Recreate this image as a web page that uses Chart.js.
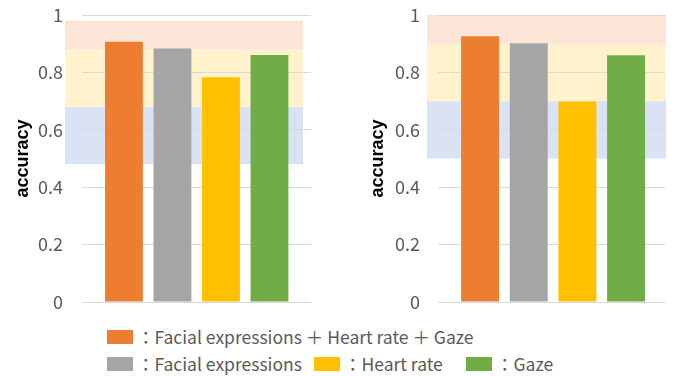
<!DOCTYPE html>
<html lang="en">
  <head>
    <meta charset="UTF-8" />
    <title>Accuracy</title>
    <script src="https://cdn.jsdelivr.net/npm/chart.js"></script>
    <style>
      body {
        margin: 0;
        background: #fff;
        width: 673px;
        height: 376px;
        position: relative;
        overflow: hidden;
        font-family: "Noto Sans CJK JP", "Noto Sans", sans-serif;
      }
      .box {
        position: absolute;
        top: 0;
        height: 320px;
      }
      #leftBox {
        left: 0;
        width: 340px;
      }
      #rightBox {
        left: 340px;
        width: 333px;
      }
      .legend-item {
        position: absolute;
        display: flex;
        align-items: center;
        color: #595959;
        font-size: 17.5px;
        white-space: nowrap;
      }
      .swatch {
        width: 26px;
        height: 14px;
        margin-right: 4px;
      }
    </style>
  </head>
  <body>
    <div class="box" id="leftBox"><canvas id="leftChart"></canvas></div>
    <div class="box" id="rightBox"><canvas id="rightChart"></canvas></div>

    <div class="legend-item" style="left: 107px; top: 324px">
      <span class="swatch" style="background: #ed7d31"></span>
      <span>：Facial expressions ＋ Heart rate ＋ Gaze</span>
    </div>
    <div class="legend-item" style="left: 107px; top: 351px">
      <span class="swatch" style="background: #a5a5a5"></span>
      <span>：Facial expressions</span>
    </div>
    <div class="legend-item" style="left: 314px; top: 351px">
      <span class="swatch" style="background: #ffc000"></span>
      <span>：Heart rate</span>
    </div>
    <div class="legend-item" style="left: 466px; top: 351px">
      <span class="swatch" style="background: #70ad47"></span>
      <span>：Gaze</span>
    </div>

    <script>
      // models, in bar order
      const models = [
        "Facial expressions + Heart rate + Gaze",
        "Facial expressions",
        "Heart rate",
        "Gaze",
      ];
      const barColors = ["#ed7d31", "#a5a5a5", "#ffc000", "#70ad47"];

      const leftAccuracy = [0.907, 0.883, 0.783, 0.861];
      const rightAccuracy = [0.926, 0.902, 0.699, 0.86];

      // shaded bands behind the bars: [from, to]
      const leftBands = [
        [0.48, 0.68],
        [0.68, 0.88],
        [0.88, 0.98],
      ];
      const rightBands = [
        [0.5, 0.7],
        [0.7, 0.9],
        [0.9, 1.0],
      ];
      const bandColors = ["#dae3f3", "#fff2cc", "#fbe5d6"];

      const yTicks = [0, 0.2, 0.4, 0.6, 0.8, 1];

      // draws the bands under the grid
      const bandPlugin = {
        id: "bands",
        beforeDraw(chart, args, opts) {
          const ctx = chart.ctx;
          const y = chart.scales.y;
          const area = chart.chartArea;
          ctx.save();
          opts.bands.forEach((b, i) => {
            const top = y.getPixelForValue(b[1]);
            const bottom = y.getPixelForValue(b[0]);
            ctx.fillStyle = bandColors[i];
            ctx.fillRect(
              area.left + opts.extendLeft,
              top,
              area.right - area.left - opts.extendLeft + opts.extendRight,
              bottom - top
            );
          });
          ctx.restore();
        },
      };

      function makeChart(id, values, bands, s) {
        const ctx = document.getElementById(id).getContext("2d");
        return new Chart(ctx, {
          type: "bar",
          data: {
            datasets: [
              {
                data: values.map((v, i) => ({ x: i, y: v })),
                backgroundColor: barColors,
                borderWidth: 0,
                barPercentage: 0.78,
                categoryPercentage: 1,
              },
            ],
          },
          options: {
            responsive: true,
            maintainAspectRatio: false,
            animation: false,
            layout: {
              padding: { left: 0, right: s.padRight, top: 15, bottom: 18 },
            },
            plugins: {
              legend: { display: false },
              tooltip: { enabled: false },
              bands: {
                bands: bands,
                extendLeft: s.extendLeft,
                extendRight: s.extendRight,
              },
            },
            scales: {
              x: {
                type: "linear",
                display: false,
                offset: false,
                min: -0.865,
                max: s.xMax,
                // one tick per bar so the bar width follows the bar spacing
                afterBuildTicks(scale) {
                  scale.ticks = models.map((m, i) => ({ value: i }));
                },
              },
              y: {
                min: 0,
                max: 1,
                afterFit(scale) {
                  // fixed axis width, no extra room above/below for labels
                  scale.width = s.axisWidth;
                  scale.paddingTop = 0;
                  scale.paddingBottom = 0;
                },
                afterBuildTicks(scale) {
                  scale.ticks = yTicks.map((v) => ({ value: v }));
                },
                border: { display: false },
                grid: { color: "#d9d9d9", drawTicks: false, lineWidth: 1 },
                ticks: {
                  padding: s.tickPad,
                  color: "#595959",
                  font: { family: "'Noto Sans CJK JP'", size: 18 },
                  callback: (v) => String(v),
                },
                title: {
                  display: true,
                  text: "accuracy",
                  color: "#000",
                  font: { family: "'Liberation Sans'", size: 18, weight: "bold" },
                  padding: { top: s.titlePad, bottom: 0 },
                },
              },
            },
          },
          plugins: [bandPlugin],
        });
      }

      makeChart("leftChart", leftAccuracy, leftBands, {
        padRight: 29,
        axisWidth: 82,
        tickPad: 19,
        titlePad: 12,
        extendLeft: -17,
        extendRight: -8,
        xMax: 3.856,
      });
      makeChart("rightChart", rightAccuracy, rightBands, {
        padRight: 8,
        axisWidth: 98,
        tickPad: 18,
        titlePad: 27,
        extendLeft: -11,
        extendRight: 1,
        xMax: 3.8,
      });
    </script>
  </body>
</html>
